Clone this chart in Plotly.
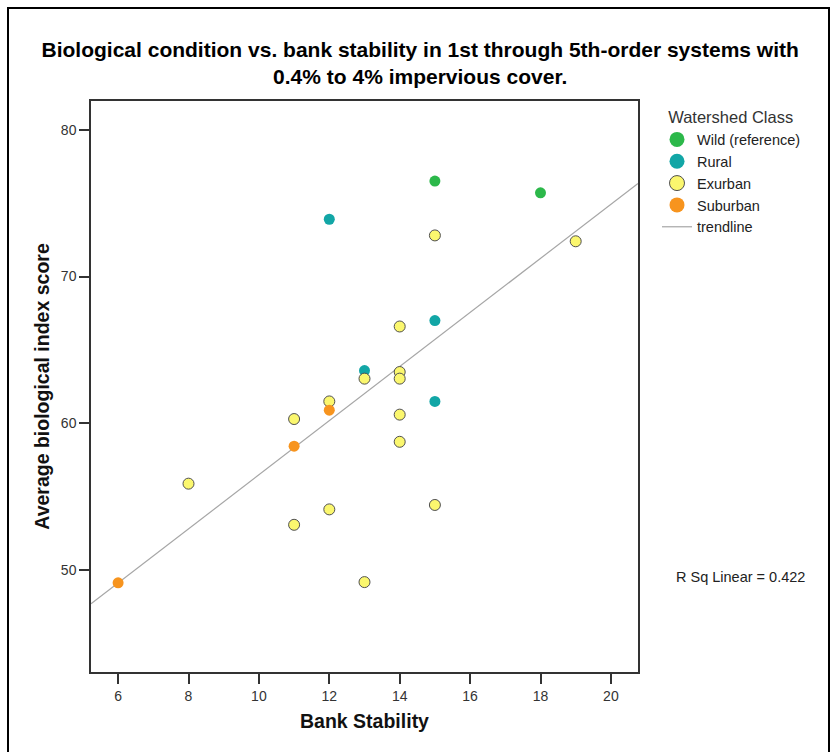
import numpy as np
import plotly.graph_objects as go

# Bank stability score and average biological index per site, by watershed class
wild_x = [15, 18]
wild_y = [76.5, 75.7]

rural_x = [12, 15, 13, 15]
rural_y = [73.9, 67.0, 63.6, 61.5]

exurban_x = [15, 19, 14, 14, 14, 13, 12, 11, 14, 14, 8, 12, 15, 11, 13]
exurban_y = [72.8, 72.4, 66.6, 63.5, 63.05, 63.05, 61.5, 60.3, 60.6, 58.75,
             55.9, 54.15, 54.45, 53.1, 49.2]

suburban_x = [12, 11, 6]
suburban_y = [60.9, 58.45, 49.15]

x_ticks = [6, 8, 10, 12, 14, 16, 18, 20]
y_ticks = [50, 60, 70, 80]
x_range = [5.23, 20.77]
y_range = [43.08, 81.95]

FONT = "Liberation Sans, Arial, sans-serif"

# least-squares trendline over all sites
all_x = np.array(wild_x + rural_x + exurban_x + suburban_x, dtype=float)
all_y = np.array(wild_y + rural_y + exurban_y + suburban_y, dtype=float)
slope, intercept = np.polyfit(all_x, all_y, 1)
r_sq = np.corrcoef(all_x, all_y)[0, 1] ** 2
line_x = np.array(x_range)
line_y = intercept + slope * line_x

TREND_COLOR = "#a6a6a6"

fig = go.Figure()

fig.add_trace(go.Scatter(
    x=line_x, y=line_y, mode="lines", name="trendline",
    line=dict(color=TREND_COLOR, width=1.2), showlegend=False, hoverinfo="skip"))

groups = [
    ("Wild (reference)", wild_x, wild_y, "#2cb84a", None),
    ("Rural", rural_x, rural_y, "#12a6a6", None),
    ("Exurban", exurban_x, exurban_y, "#fbf76e", "#505050"),
    ("Suburban", suburban_x, suburban_y, "#f7941e", None),
]
for name, xs, ys, color, edge in groups:
    line = dict(color=edge if edge else color, width=1 if edge else 0)
    fig.add_trace(go.Scatter(
        x=xs, y=ys, mode="markers", name=name, showlegend=False,
        marker=dict(size=11, color=color, line=line)))
    # larger swatch for the legend
    fig.add_trace(go.Scatter(
        x=[None], y=[None], mode="markers", name=name,
        marker=dict(size=15, color=color, line=line)))

fig.add_trace(go.Scatter(
    x=[None], y=[None], mode="lines", name="trendline",
    line=dict(color=TREND_COLOR, width=1.2)))

fig.add_annotation(
    text=f"R Sq Linear = {r_sq:.3f}", xref="paper", yref="paper",
    x=1.066, xanchor="left", y=0.148, showarrow=False,
    font=dict(family=FONT, size=14.5, color="#222222"))

# outer frame of the whole chart
fig.add_shape(type="rect", xref="paper", yref="paper",
              x0=(8 - 91) / 547, x1=(829 - 91) / 547,
              y0=(672 - 770) / 571, y1=(672 - 8) / 571,
              line=dict(color="#000000", width=2), fillcolor="rgba(0,0,0,0)",
              layer="below")

fig.update_layout(
    width=837, height=752,
    margin=dict(l=91, r=199, t=101, b=80),
    paper_bgcolor="white", plot_bgcolor="white",
    font=dict(family=FONT, color="#222222"),
    title=dict(
        text="<b>Biological condition vs. bank stability in 1st through 5th-order systems with"
             "<br>0.4% to 4% impervious cover.</b>",
        x=0.502, xanchor="center", y=1 - 57 / 752, yanchor="top",
        font=dict(family=FONT, size=21, color="#000000")),
    legend=dict(
        title=dict(text="&nbsp;&nbsp;Watershed Class",
                   font=dict(family=FONT, size=16.5, color="#333333")),
        xref="container", yref="container",
        x=657 / 837, xanchor="left", y=1 - 102 / 752, yanchor="top",
        font=dict(family=FONT, size=14.5, color="#222222"),
        bgcolor="rgba(0,0,0,0)", itemsizing="trace", tracegroupgap=0),
    showlegend=True,
)

fig.update_xaxes(
    range=x_range, tickvals=x_ticks, ticks="outside", ticklen=10, tickwidth=1.5,
    tickcolor="#333333", showgrid=False, zeroline=False,
    showline=True, linecolor="#333333", linewidth=1.5, mirror=True,
    tickfont=dict(family=FONT, size=14, color="#333333"),
    title=dict(text="<b>Bank Stability</b>", standoff=12,
               font=dict(family=FONT, size=19.5, color="#111111")))

fig.update_yaxes(
    range=y_range, tickvals=y_ticks, ticks="outside", ticklen=10, tickwidth=1.5,
    tickcolor="#333333", showgrid=False, zeroline=False,
    showline=True, linecolor="#333333", linewidth=1.5, mirror=True,
    tickfont=dict(family=FONT, size=14, color="#333333"),
    title=dict(text="<b>Average biological index score</b>", standoff=6,
               font=dict(family=FONT, size=19.5, color="#111111")))

fig.write_html("out.html")
